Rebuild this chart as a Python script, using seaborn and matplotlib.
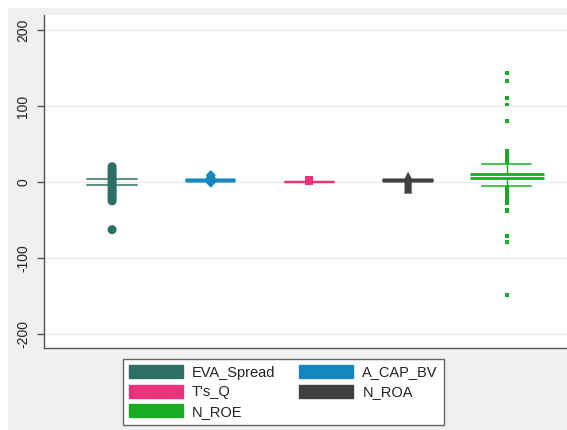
import matplotlib
matplotlib.use("Agg")
import matplotlib.pyplot as plt
from matplotlib.patches import Patch, Rectangle
import numpy as np
import pandas as pd
import seaborn as sns

# ---- data ----
variables = ["EVA_Spread", "A_CAP_BV", "T's_Q", "N_ROA", "N_ROE"]
colors = ["#2e6e64", "#1487c0", "#e9327a", "#404040", "#19ab24"]
box_q1 = [-0.6, 1.4, 0.3, 1.4, 5.7]
box_med = [-0.2, 1.7, 0.4, 1.7, 7.8]
box_q3 = [0.4, 2.0, 0.5, 2.0, 10.0]
whisk_lo = [-4.4, 1.4, 0.3, 1.4, -6.0]
whisk_hi = [3.6, 2.0, 0.5, 2.0, 23.0]
out_eva = [20, 17, 14, 11, 8, 5, 2, -1, -4, -7, -10, -13, -16, -19, -22, -25, -63]
out_acap = [9, 6, 4, -1]
out_tsq = [1.8]
out_nroa = [8, 5, 2, -1, -4, -7, -10]
out_nroe = [41, 38.5, 36, 33.5, 31, 28.5, 26, -8.5, -11, -13.5, -16, -18.5,
            -21, -23.5, -26, -28, -37, -39, -71, -79, -149, 80.5, 102, 111, 133, 144]
y_ticks = [-200, -100, 0, 100, 200]

outliers = [out_eva, out_acap, out_tsq, out_nroa, out_nroe]

sns.set_theme(style="white")
plt.rcParams["font.family"] = ["Liberation Sans", "DejaVu Sans"]

W, H = 567, 430
fig = plt.figure(figsize=(W / 100, H / 100), dpi=100, facecolor="white")
fig.patches.append(Rectangle((8 / W, 0), 1, 1 - 8 / H, transform=fig.transFigure,
                             facecolor="#f0f0f0", edgecolor="none", zorder=-5))

ax = fig.add_axes([44 / W, (H - 348) / H, (W - 44) / W, (348 - 15) / H])
ax.set_facecolor("white")

positions = list(range(len(variables)))
box_w = [0.5, 0.5, 0.5, 0.5, 0.75]
cap_w = [0.5, 0.5, 0.5, 0.5, 0.5]

# whiskers and caps
stats = []
for i, v in enumerate(variables):
    stats.append(dict(label=v, q1=box_q1[i], med=box_med[i], q3=box_q3[i],
                      whislo=whisk_lo[i], whishi=whisk_hi[i], fliers=[]))
res = ax.bxp(stats, positions=positions, widths=box_w, capwidths=cap_w,
             patch_artist=True, showfliers=False, manage_ticks=False)
for i, c in enumerate(colors):
    res["boxes"][i].set_visible(False)
    res["medians"][i].set_visible(False)
    for wl in res["whiskers"][2 * i:2 * i + 2]:
        wl.set_color(c); wl.set_linewidth(1.0); wl.set_zorder(2)
    for cl in res["caps"][2 * i:2 * i + 2]:
        cl.set_color(c); cl.set_linewidth(1.5); cl.set_alpha(0.75); cl.set_zorder(2)

# box edges (Stata-like: top and bottom lines of the box)
box_lw = [0.0, 2.6, 1.6, 2.6, 2.0]
box_alpha = [0.0, 0.7, 0.8, 0.7, 1.0]
for i, c in enumerate(colors):
    if box_lw[i] == 0:
        continue
    ax.hlines([box_q1[i], box_q3[i]], positions[i] - box_w[i] / 2,
              positions[i] + box_w[i] / 2, colors=c, linewidth=box_lw[i],
              alpha=box_alpha[i], zorder=3)

# outliers
rows = []
for i, v in enumerate(variables):
    for val in outliers[i]:
        rows.append((v, i, val))
df = pd.DataFrame(rows, columns=["variable", "pos", "value"])
markers = {"EVA_Spread": "o", "A_CAP_BV": "D", "T's_Q": "s", "N_ROA": "^", "N_ROE": "s"}
sizes = {"EVA_Spread": 42, "A_CAP_BV": 26, "T's_Q": 34, "N_ROA": 36, "N_ROE": 8}
sns.scatterplot(data=df, x="pos", y="value", hue="variable", style="variable",
                size="variable", hue_order=variables, style_order=variables,
                size_order=variables, palette=dict(zip(variables, colors)),
                markers=markers, sizes=sizes, linewidth=0, legend=False,
                ax=ax, zorder=4)

ax.set_xlim(-0.69, 4.61)
ax.set_ylim(-219, 220)
ax.set_yticks(y_ticks)
ax.set_yticklabels([str(t) for t in y_ticks])
ax.set_xticks([])
ax.set_xlabel("")
ax.set_ylabel("")
ax.yaxis.grid(True, color="#eaeaea", linewidth=0.9)
ax.xaxis.grid(False)
ax.set_axisbelow(True)
for s in ("top", "right"):
    ax.spines[s].set_visible(False)
for s in ("left", "bottom"):
    ax.spines[s].set_color("#555555")
    ax.spines[s].set_linewidth(1.0)
ax.tick_params(axis="y", left=True, length=5, width=1, color="#555555",
               pad=5, labelsize=10, labelcolor="#222222")
for lab in ax.get_yticklabels():
    lab.set_rotation(90)
    lab.set_va("center")

# legend (column-major order to get row layout of reference)
order = [0, 2, 4, 1, 3]
handles = [Patch(facecolor=colors[i], edgecolor=colors[i]) for i in order]
labels = [variables[i] for i in order]
leg = fig.legend(handles, labels, loc="upper left",
                 bbox_to_anchor=(123 / W, 1 - 359 / H), borderaxespad=0,
                 ncol=2, fontsize=10.5, handlelength=3.7, handleheight=1.0,
                 handletextpad=0.62, columnspacing=1.64, labelspacing=0.35,
                 borderpad=0.41, fancybox=False, framealpha=1, frameon=True)
leg.get_frame().set_edgecolor("#666666")
leg.get_frame().set_linewidth(1.0)
for t in leg.get_texts():
    t.set_color("#222222")

fig.savefig("out.png", dpi=100, facecolor=fig.get_facecolor())
